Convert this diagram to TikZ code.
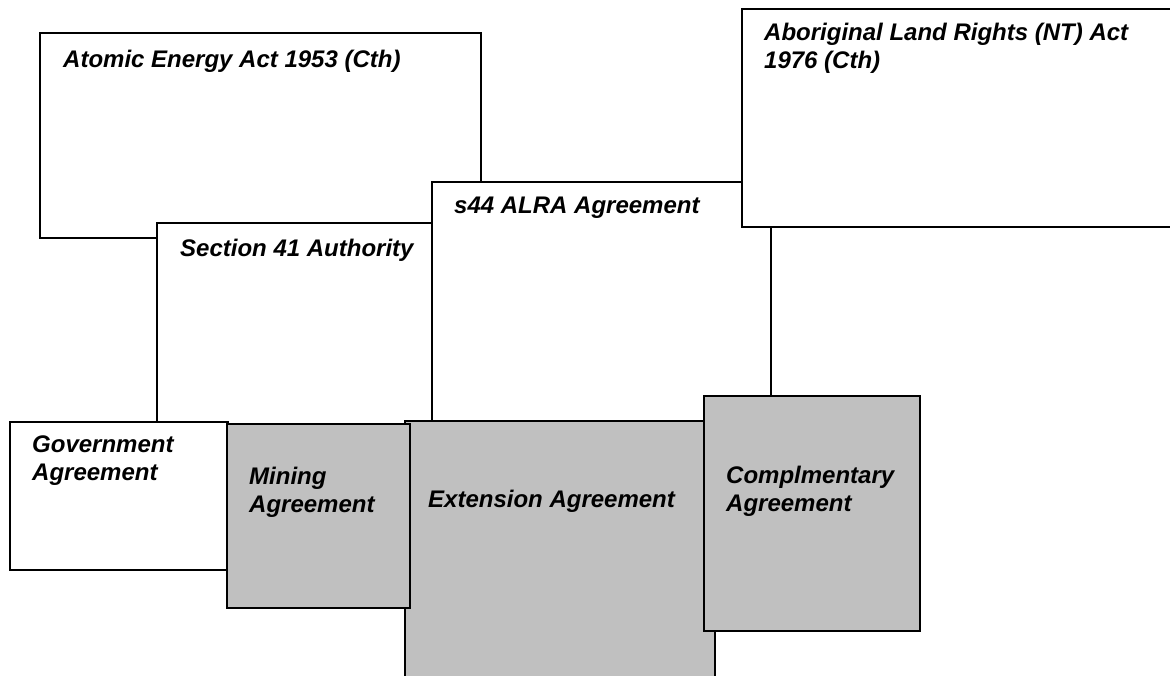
\documentclass[tikz,border=0pt]{standalone}
\usepackage{fontspec}
\setmainfont{Liberation Sans}
\begin{document}
\begin{tikzpicture}[x=1pt,y=-1pt,
  panel/.style={draw=black,line width=2pt,fill=white},
  shaded/.style={panel,fill=shadegray},
  lbl/.style={anchor=base west,inner sep=0pt,font=\fontsize{24}{27.5}\selectfont\bfseries\itshape,align=left},
]
\definecolor{shadegray}{RGB}{192,192,192}
\useasboundingbox (0,0) rectangle (1170,675);
\clip (0,0) rectangle (1170,675);

% legislation and authorities (back layers)
\draw[panel] (40,33) rectangle (481,238);
\node[lbl] (atomic) at (63,67) {Atomic Energy Act 1953 (Cth)};

\draw[panel] (157,223) rectangle (440,440);
\node[lbl] (sec41) at (180,256) {Section 41 Authority};

\draw[panel] (432,182) rectangle (771,450);
\node[lbl] (s44) at (454,213) {s44 ALRA Agreement};

% multi-line labels are placed by the baseline of their last line
\draw[panel] (742,9) rectangle (1185,227);
\node[lbl] (alra) at (764,68) {Aboriginal Land Rights (NT) Act\\1976 (Cth)};

% agreements (front layers)
\draw[panel] (10,422) rectangle (228,570);
\node[lbl] (gov) at (32,480) {Government\\Agreement};

\draw[shaded] (405,421) rectangle (715,700);
\node[lbl] (ext) at (428,507) {Extension Agreement};

\draw[shaded] (227,424) rectangle (410,608);
\node[lbl] (mining) at (249,512) {Mining\\Agreement};

\draw[shaded] (704,396) rectangle (920,631);
\node[lbl] (comp) at (726,511) {Complmentary\\Agreement};
\end{tikzpicture}
\end{document}
